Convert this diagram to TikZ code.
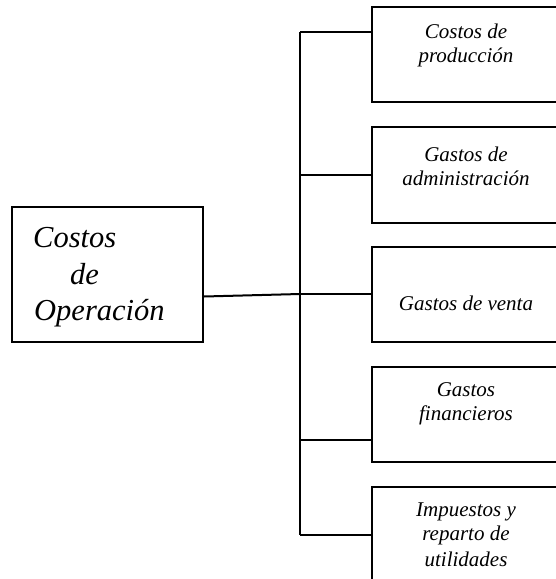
\documentclass[tikz,border=0pt]{standalone}
\usepackage{fontspec}
\setmainfont{Liberation Serif}
\begin{document}
\begin{tikzpicture}[x=1pt,y=-1pt,
  boxst/.style={draw=black,line width=2pt,rectangle,inner sep=0pt},
  conn/.style={draw=black,line width=2pt},
  small/.style={font=\itshape\fontsize{21}{24}\selectfont,inner sep=0pt,anchor=base},
  big/.style={font=\itshape\fontsize{30.5}{36}\selectfont,inner sep=0pt,anchor=base west}]
\clip (0,0) rectangle (556,579);
\useasboundingbox (0,0) rectangle (556,579);
% left box
\node[boxst,minimum width=191pt,minimum height=135pt] (L) at (107.5,274.5) {};
\node[big] (La) at (33,247) {Costos};
\node[big] (Lb) at (70,284) {de};
\node[big] (Lc) at (34,320) {Operación};
% right boxes
\node[boxst,minimum width=200pt,minimum height=95pt] (B1) at (472,54.5) {};
\node[boxst,minimum width=200pt,minimum height=96pt] (B2) at (472,175) {};
\node[boxst,minimum width=200pt,minimum height=95pt] (B3) at (472,294.5) {};
\node[boxst,minimum width=200pt,minimum height=95pt] (B4) at (472,414.5) {};
\node[boxst,minimum width=200pt,minimum height=95pt] (B5) at (472,534.5) {};
% texts
\node[small] (t1a) at (466,38.5) {Costos de};
\node[small] (t1b) at (466,62.5) {producción};
\node[small] (t2a) at (466,161.5) {Gastos de};
\node[small] (t2b) at (466,185.5) {administración};
\node[small] (t3a) at (466,310) {Gastos de venta};
\node[small] (t4a) at (466,396.5) {Gastos};
\node[small] (t4b) at (466,420.5) {financieros};
\node[small] (t5a) at (466,516.5) {Impuestos y};
\node[small] (t5b) at (466,540.5) {reparto de};
\node[small] (t5c) at (466,566.5) {utilidades};
% trunk
\coordinate (k1) at (300,32);
\coordinate (k2) at (300,175);
\coordinate (k3) at (300,294);
\coordinate (k4) at (300,440);
\coordinate (k5) at (300,535);
\draw[conn] (k1) -- (k5);
\draw[conn] (k1) -- (k1 -| B1.west);
\draw[conn] (k2) -- (k2 -| B2.west);
\draw[conn] (k3) -- (k3 -| B3.west);
\draw[conn] (k4) -- (k4 -| B4.west);
\draw[conn] (k5) -- (k5 -| B5.west);
\draw[conn] ([yshift=-22pt]L.east) -- (k3);
\end{tikzpicture}
\end{document}
